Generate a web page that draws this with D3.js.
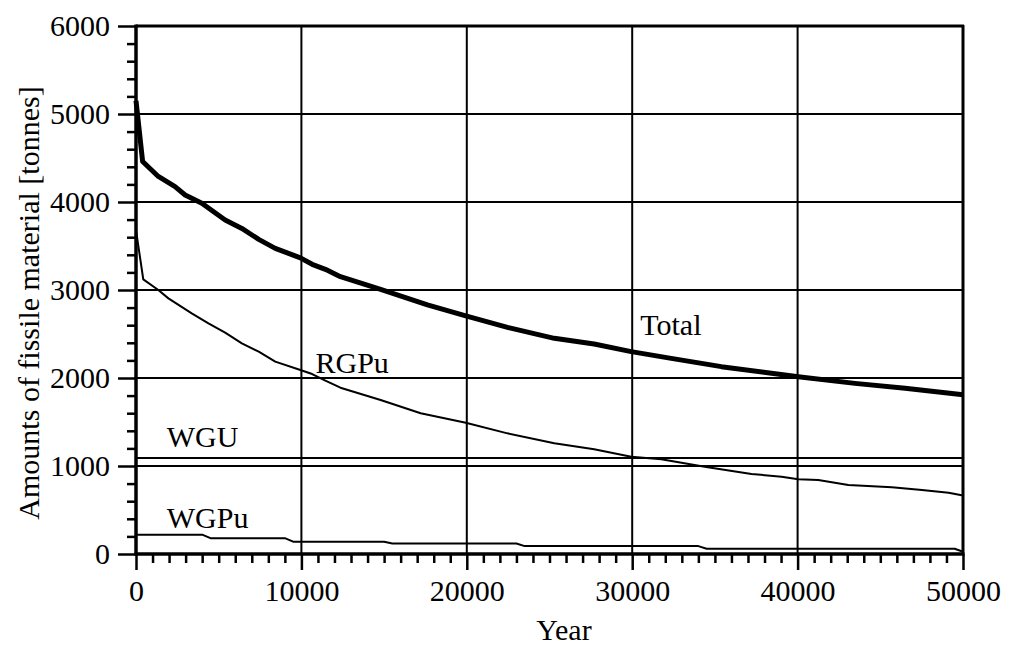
<!DOCTYPE html>
<html>
<head>
<meta charset="utf-8">
<script src="https://cdn.jsdelivr.net/npm/d3@7"></script>
<style>
body { margin: 0; background: #fff; }
svg text { font-family: "Liberation Serif", "Times New Roman", serif; fill: #000; }
</style>
</head>
<body>
<svg id="chart" width="1010" height="645"></svg>
<script>
// ---- data ----
const totalYears = [0, 400, 1350, 2360, 2970, 3980, 5390, 6400, 7420, 8420, 9940, 10650, 11450, 12360, 14790, 17620, 19940, 22460, 25290, 27700, 29940, 32360, 35390, 38420, 40040, 43470, 46500, 50000];
const totalValues = [5150, 4460, 4290, 4175, 4080, 3985, 3795, 3700, 3575, 3473, 3365, 3292, 3235, 3151, 3008, 2830, 2705, 2576, 2451, 2386, 2300, 2223, 2129, 2053, 2015, 1939, 1883, 1810];

const rgpuYears = [0, 440, 1350, 1960, 3370, 4380, 5390, 6400, 7420, 8420, 9940, 10650, 11450, 12360, 14790, 17210, 19940, 22460, 25290, 27700, 29940, 31760, 34380, 37210, 39030, 40040, 41250, 43070, 45700, 47520, 49130, 50000];
const rgpuValues = [3680, 3120, 3000, 2905, 2735, 2621, 2515, 2394, 2299, 2186, 2091, 2045, 1970, 1890, 1750, 1599, 1492, 1371, 1258, 1190, 1106, 1076, 992, 909, 879, 849, 841, 784, 758, 727, 697, 665];

const wguYears = [0, 50000];
const wguValues = [1090, 1090];

const wgpuYears = [0, 4000, 4500, 9000, 9500, 15000, 15500, 23000, 23500, 34000, 34500, 49500, 50000];
const wgpuValues = [220, 220, 180, 180, 140, 140, 120, 120, 90, 90, 60, 60, 25];

const xTicks = [0, 10000, 20000, 30000, 40000, 50000];
const yTicks = [0, 1000, 2000, 3000, 4000, 5000, 6000];
const xMinorStep = 1000;
const yMinorStep = 200;

const seriesLabels = [
  { text: "Total", x: 30490, y: 2490 },
  { text: "RGPu", x: 10850, y: 2060 },
  { text: "WGU", x: 1860, y: 1213 },
  { text: "WGPu", x: 1860, y: 292 }
];

// ---- layout ----
const svg = d3.select("#chart");
const x = d3.scaleLinear().domain([0, 50000]).range([136, 963]);
const y = d3.scaleLinear().domain([0, 6000]).range([554, 26]);
const fontSize = 30;

// grid lines
const g = svg.append("g");
g.selectAll("line.hgrid").data(yTicks.filter(v => v > 0)).enter().append("line")
  .attr("x1", x(0)).attr("x2", x(50000))
  .attr("y1", d => y(d)).attr("y2", d => y(d))
  .attr("stroke", "#000").attr("stroke-width", 2);
g.selectAll("line.vgrid").data(xTicks.filter(v => v > 0 && v < 50000)).enter().append("line")
  .attr("y1", y(0)).attr("y2", y(6000))
  .attr("x1", d => x(d)).attr("x2", d => x(d))
  .attr("stroke", "#000").attr("stroke-width", 2);

// right and top borders
svg.append("line").attr("x1", x(50000)).attr("x2", x(50000)).attr("y1", y(6000) - 1).attr("y2", y(0))
  .attr("stroke", "#000").attr("stroke-width", 3);
svg.append("line").attr("x1", x(0)).attr("x2", x(50000) + 1).attr("y1", y(6000)).attr("y2", y(6000))
  .attr("stroke", "#000").attr("stroke-width", 3);

// y axis (left)
const yMinor = d3.range(0, 6000 + 1, yMinorStep).filter(v => v % 1000 !== 0);
const yAxisMinor = d3.axisLeft(y).tickValues(yMinor).tickSize(9).tickFormat("");
const yAxisMajor = d3.axisLeft(y).tickValues(yTicks).tickSize(18).tickPadding(8).tickFormat(d3.format("d"));
const ya1 = svg.append("g").attr("transform", `translate(${x(0)},0)`).call(yAxisMinor);
const ya2 = svg.append("g").attr("transform", `translate(${x(0)},0)`).call(yAxisMajor);
[ya1, ya2].forEach(a => {
  a.select(".domain").remove();
  a.selectAll(".tick line").attr("stroke", "#000").attr("stroke-width", 2.5);
});
ya2.selectAll(".tick text").attr("font-size", fontSize).attr("font-family", "Liberation Serif").attr("dy", "0.33em");

// x axis (bottom)
const xMinor = d3.range(0, 50000 + 1, xMinorStep).filter(v => v % 10000 !== 0);
const xAxisMinor = d3.axisBottom(x).tickValues(xMinor).tickSize(9).tickFormat("");
const xAxisMajor = d3.axisBottom(x).tickValues(xTicks).tickSize(16).tickPadding(10).tickFormat(d3.format("d"));
const xa1 = svg.append("g").attr("transform", `translate(0,${y(0)})`).call(xAxisMinor);
const xa2 = svg.append("g").attr("transform", `translate(0,${y(0)})`).call(xAxisMajor);
[xa1, xa2].forEach(a => {
  a.select(".domain").remove();
  a.selectAll(".tick line").attr("stroke", "#000").attr("stroke-width", 2.5);
});
xa2.selectAll(".tick text").attr("font-size", fontSize).attr("font-family", "Liberation Serif");

// axis lines (thick)
svg.append("line").attr("x1", x(0)).attr("x2", x(0)).attr("y1", y(6000) - 1.5).attr("y2", y(0) + 1.5)
  .attr("stroke", "#000").attr("stroke-width", 3.5);
svg.append("line").attr("x1", x(0) - 1.5).attr("x2", x(50000) + 1.5).attr("y1", y(0)).attr("y2", y(0))
  .attr("stroke", "#000").attr("stroke-width", 3.5);

// series
const line = d3.line().x(d => x(d[0])).y(d => y(d[1]));
function drawSeries(xs, vs, w) {
  svg.append("path").datum(xs.map((v, i) => [v, vs[i]]))
    .attr("d", line).attr("fill", "none").attr("stroke", "#000")
    .attr("stroke-width", w).attr("stroke-linejoin", "round");
}
drawSeries(wguYears, wguValues, 2);
drawSeries(wgpuYears, wgpuValues, 2);
drawSeries(rgpuYears, rgpuValues, 2);
drawSeries(totalYears, totalValues, 5);

// series labels
svg.selectAll("text.slabel").data(seriesLabels).enter().append("text")
  .attr("class", "slabel")
  .attr("x", d => x(d.x)).attr("y", d => y(d.y))
  .attr("font-size", fontSize)
  .text(d => d.text);

// axis titles
svg.append("text").attr("x", 564).attr("y", 640).attr("text-anchor", "middle")
  .attr("font-size", fontSize).text("Year");
svg.append("text").attr("transform", "translate(39,303) rotate(-90)")
  .attr("text-anchor", "middle").attr("font-size", fontSize)
  .text("Amounts of fissile material [tonnes]");
</script>
</body>
</html>
